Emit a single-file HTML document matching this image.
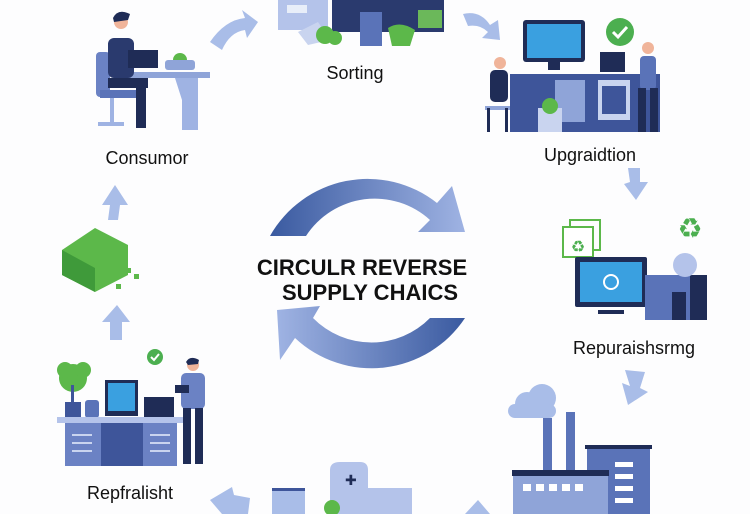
<!DOCTYPE html>
<html><head><meta charset="utf-8"><style>
html,body{margin:0;padding:0;background:#fff;}
svg{display:block;}
text{font-family:"Liberation Sans",sans-serif;fill:#111;}
</style></head><body>
<svg width="750" height="514" viewBox="0 0 750 514" xmlns="http://www.w3.org/2000/svg">
<defs>
<linearGradient id="g1" x1="0" y1="0" x2="1" y2="0"><stop offset="0" stop-color="#3a5aa0"/><stop offset="1" stop-color="#9fb3e3"/></linearGradient>
<linearGradient id="g2" x1="1" y1="0" x2="0" y2="0"><stop offset="0" stop-color="#3a5aa0"/><stop offset="1" stop-color="#9fb3e3"/></linearGradient>
</defs>
<rect width="750" height="514" fill="#fdfdfe"/>

<!-- center arcs -->
<path d="M270 236 A112 112 0 0 1 437 203 L452 186 L465 232 L418 232 L430 220 A82 82 0 0 0 306 236 Z" fill="url(#g1)"/>
<path d="M465 318 A112 112 0 0 1 295 338 L280 360 L277 310 L320 306 L313 318 A82 82 0 0 0 430 318 Z" fill="url(#g2)"/>
<text x="362" y="275" font-size="22" font-weight="bold" text-anchor="middle">CIRCULR REVERSE</text>
<text x="370" y="300" font-size="22" font-weight="bold" text-anchor="middle">SUPPLY CHAICS</text>

<!-- small arrows -->
<g fill="#a9bde8">
<path d="M210 42 Q225 20 245 18 L242 10 L258 22 L247 38 L245 30 Q230 32 222 50 Z"/>
<path d="M463 14 Q480 10 490 25 L498 20 L500 40 L482 38 L488 32 Q480 24 468 26 Z"/>
<path d="M628 168 L640 168 L640 182 L648 182 L636 200 L624 184 L630 182 Z"/>
<path d="M625 370 L645 372 L640 388 L648 392 L628 405 L622 383 L630 386 Z"/>
<path d="M108 220 L118 220 L120 205 L128 205 L115 185 L102 205 L110 205 Z"/>
<path d="M110 340 L122 340 L122 322 L130 322 L117 305 L102 322 L110 322 Z"/>
<path d="M210 500 L232 487 L234 495 L250 498 L248 514 L222 514 Z"/>
<path d="M465 514 L478 500 L490 514 Z"/>
</g>

<!-- Consumer -->
<g>
<rect x="120" y="72" width="90" height="6" fill="#8fa4d8"/>
<path d="M175 78 L198 78 L198 130 L182 130 L182 100 Z" fill="#9fb3e3"/>
<rect x="96" y="52" width="14" height="45" rx="4" fill="#6b82c4"/>
<rect x="100" y="90" width="45" height="8" fill="#5a73b8"/>
<rect x="110" y="98" width="4" height="26" fill="#9fb3e3"/>
<rect x="98" y="122" width="26" height="4" fill="#9fb3e3"/>
<circle cx="121" cy="22" r="7" fill="#f0b49a"/>
<path d="M113 18 Q118 8 130 14 L128 20 L114 22 Z" fill="#1f2c56"/>
<rect x="108" y="38" width="26" height="40" rx="6" fill="#2a3a6e"/>
<rect x="108" y="78" width="40" height="10" fill="#1f2c56"/>
<rect x="136" y="80" width="10" height="48" fill="#1f2c56"/>
<rect x="128" y="50" width="30" height="18" fill="#1f2c56"/>
<circle cx="180" cy="60" r="7" fill="#5cb84a"/>
<rect x="165" y="60" width="30" height="10" rx="3" fill="#8fa4d8"/>
</g>
<text x="147" y="164" font-size="18" text-anchor="middle">Consumor</text>

<!-- Sorting -->
<g>
<rect x="278" y="0" width="50" height="30" fill="#b4c3ea"/>
<rect x="332" y="0" width="112" height="32" fill="#2a3a6e"/>
<rect x="287" y="5" width="20" height="8" fill="#e8eef9"/>
<path d="M298 32 L318 22 L330 40 L308 45 Z" fill="#c9d4ef"/>
<rect x="360" y="12" width="22" height="34" fill="#5a73b8"/>
<circle cx="325" cy="35" r="9" fill="#5cb84a"/><circle cx="335" cy="38" r="7" fill="#5cb84a"/>
<path d="M388 28 Q400 20 415 30 L410 46 L392 46 Z" fill="#5cb84a"/>
<rect x="418" y="10" width="24" height="18" fill="#6bb85a"/>
</g>
<text x="355" y="79" font-size="18" text-anchor="middle">Sorting</text>

<!-- Upgradation -->
<g>
<rect x="523" y="20" width="62" height="42" rx="3" fill="#1f2c56"/>
<rect x="527" y="24" width="54" height="34" fill="#3aa0e0"/>
<rect x="548" y="62" width="12" height="8" fill="#1f2c56"/>
<circle cx="620" cy="32" r="14" fill="#4caf50"/>
<path d="M613 32 L618 37 L627 27" stroke="#fff" stroke-width="3" fill="none"/>
<rect x="510" y="74" width="150" height="58" fill="#3e559a"/>
<rect x="555" y="80" width="30" height="42" fill="#8fa4d8"/>
<rect x="598" y="80" width="32" height="40" fill="#c9d4ef"/>
<rect x="602" y="86" width="24" height="28" fill="#3e559a"/>
<rect x="600" y="52" width="25" height="20" fill="#1f2c56"/>
<rect x="485" y="106" width="25" height="4" fill="#8fa4d8"/>
<rect x="487" y="108" width="3" height="24" fill="#1f2c56"/><rect x="505" y="108" width="3" height="24" fill="#1f2c56"/>
<circle cx="500" cy="63" r="6" fill="#f0b49a"/>
<rect x="490" y="70" width="18" height="32" rx="5" fill="#1f2c56"/>
<rect x="538" y="108" width="24" height="24" fill="#c9d4ef"/>
<circle cx="550" cy="106" r="8" fill="#5cb84a"/>
<circle cx="648" cy="48" r="6" fill="#f0b49a"/>
<rect x="640" y="56" width="16" height="34" rx="4" fill="#5a73b8"/>
<rect x="638" y="88" width="8" height="44" fill="#1f2c56"/><rect x="650" y="88" width="8" height="44" fill="#1f2c56"/>
</g>
<text x="590" y="161" font-size="18" text-anchor="middle">Upgraidtion</text>

<!-- Repuraish -->
<g>
<rect x="570" y="220" width="30" height="30" fill="none" stroke="#5cb84a" stroke-width="2"/>
<rect x="563" y="227" width="30" height="30" fill="#fff" stroke="#5cb84a" stroke-width="2"/>
<text x="690" y="238" font-size="28" text-anchor="middle" style="fill:#4caf50">♻</text>
<text x="578" y="252" font-size="16" text-anchor="middle" style="fill:#4caf50">♻</text>
<rect x="575" y="257" width="72" height="50" rx="2" fill="#1f2c56"/>
<rect x="580" y="262" width="62" height="40" fill="#3aa0e0"/>
<circle cx="611" cy="282" r="7" fill="none" stroke="#fff" stroke-width="2"/>
<rect x="598" y="310" width="26" height="4" fill="#1f2c56"/>
<rect x="645" y="275" width="62" height="45" fill="#5a73b8"/>
<rect x="690" y="275" width="17" height="45" fill="#1f2c56"/>
<rect x="672" y="292" width="14" height="28" fill="#1f2c56"/>
<circle cx="685" cy="265" r="12" fill="#b4c3ea"/>
</g>
<text x="634" y="354" font-size="18" text-anchor="middle">Repuraishsrmg</text>

<!-- Factory -->
<g>
<circle cx="527" cy="404" r="12" fill="#a9bde8"/><circle cx="542" cy="398" r="14" fill="#a9bde8"/><rect x="508" y="404" width="48" height="14" rx="7" fill="#a9bde8"/>
<rect x="543" y="418" width="9" height="60" fill="#5a73b8"/>
<rect x="566" y="412" width="9" height="66" fill="#5a73b8"/>
<rect x="587" y="448" width="63" height="66" fill="#5a73b8"/>
<rect x="585" y="445" width="67" height="4" fill="#1f2c56"/>
<rect x="513" y="475" width="95" height="39" fill="#8fa4d8"/>
<rect x="512" y="470" width="97" height="6" fill="#1f2c56"/>
<g fill="#fff"><rect x="523" y="484" width="8" height="7"/><rect x="536" y="484" width="8" height="7"/><rect x="549" y="484" width="8" height="7"/><rect x="562" y="484" width="8" height="7"/><rect x="575" y="484" width="8" height="7"/>
<rect x="615" y="462" width="18" height="5"/><rect x="615" y="474" width="18" height="5"/><rect x="615" y="486" width="18" height="5"/><rect x="615" y="498" width="18" height="5"/></g>
</g>

<!-- bottom machine -->
<g>
<rect x="272" y="490" width="33" height="24" fill="#a9bde8"/>
<rect x="272" y="488" width="33" height="3" fill="#3e559a"/>
<path d="M330 514 L330 470 Q330 462 340 462 L360 462 Q368 462 368 470 L368 488 L412 488 L412 514 Z" fill="#b4c3ea"/>
<text x="345" y="485" font-size="14" style="fill:#1f2c56">✚</text>
<circle cx="332" cy="508" r="8" fill="#5cb84a"/>
</g>

<!-- cash -->
<g>
<path d="M62 250 L95 228 L128 245 L128 275 L95 292 L62 275 Z" fill="#5cb84a"/>
<path d="M62 250 L95 268 L95 292 L62 275 Z" fill="#3f9a3a"/>
<rect x="125" y="268" width="6" height="5" fill="#5cb84a"/><rect x="134" y="274" width="5" height="5" fill="#5cb84a"/><rect x="116" y="284" width="5" height="5" fill="#5cb84a"/>
</g>

<!-- Repfralisht -->
<g>
<circle cx="73" cy="378" r="14" fill="#5cb84a"/><circle cx="65" cy="370" r="8" fill="#5cb84a"/><circle cx="83" cy="370" r="8" fill="#5cb84a"/>
<rect x="71" y="385" width="3" height="20" fill="#3e559a"/>
<rect x="65" y="402" width="16" height="16" fill="#3e559a"/>
<rect x="85" y="400" width="14" height="18" rx="3" fill="#5a73b8"/>
<rect x="105" y="380" width="33" height="36" fill="#1f2c56"/>
<rect x="108" y="383" width="27" height="28" fill="#3aa0e0"/>
<rect x="144" y="397" width="30" height="20" fill="#1f2c56"/>
<rect x="57" y="417" width="128" height="6" fill="#b4c3ea"/>
<rect x="65" y="423" width="112" height="43" fill="#6b82c4"/>
<rect x="101" y="423" width="42" height="43" fill="#3e559a"/>
<g fill="#c9d4ef"><rect x="72" y="434" width="20" height="2"/><rect x="72" y="442" width="20" height="2"/><rect x="72" y="450" width="20" height="2"/><rect x="150" y="434" width="20" height="2"/><rect x="150" y="442" width="20" height="2"/><rect x="150" y="450" width="20" height="2"/></g>
<circle cx="155" cy="357" r="8" fill="#4caf50"/>
<path d="M151 357 L154 360 L159 354" stroke="#fff" stroke-width="2" fill="none"/>
<circle cx="193" cy="365" r="6" fill="#f0b49a"/>
<path d="M186 362 Q190 355 199 360 L198 364 L188 365 Z" fill="#1f2c56"/>
<rect x="181" y="373" width="24" height="36" rx="5" fill="#6b82c4"/>
<rect x="175" y="385" width="14" height="8" fill="#1f2c56"/>
<rect x="183" y="408" width="8" height="56" fill="#1f2c56"/><rect x="195" y="408" width="8" height="56" fill="#1f2c56"/>
</g>
<text x="130" y="499" font-size="18" text-anchor="middle">Repfralisht</text>
</svg>
</body></html>
